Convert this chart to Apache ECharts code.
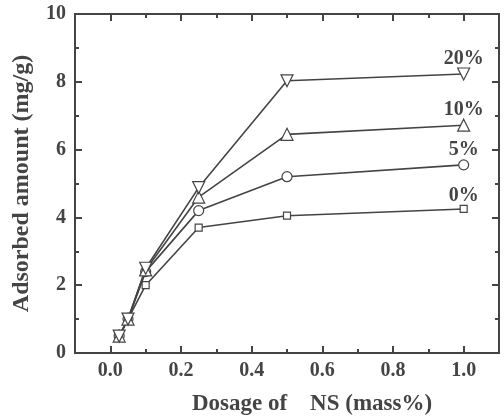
<!DOCTYPE html>
<html>
<head>
<meta charset="utf-8">
<script src="https://cdn.jsdelivr.net/npm/echarts@6/dist/echarts.min.js"></script>
<style>
  html, body { margin: 0; padding: 0; background: #fff; }
  #chart { width: 504px; height: 417px; }
</style>
</head>
<body>
<div id="chart"></div>
<script>
// dosage of NS (mass%)
var dosage = [0.025, 0.05, 0.1, 0.25, 0.5, 1.0]
var seriesNames = ['0%', '5%', '10%', '20%']
var vals0 = [0.5, 1.0, 2.0, 3.7, 4.05, 4.25]
var vals5 = [0.5, 1.0, 2.4, 4.2, 5.2, 5.55]
var vals10 = [0.5, 1.0, 2.45, 4.6, 6.45, 6.72]
var vals20 = [0.5, 1.0, 2.5, 4.88, 8.03, 8.23]
var xMajor = [0, 0.2, 0.4, 0.6, 0.8, 1.0]
var xMinor = [0.1, 0.3, 0.5, 0.7, 0.9]

var ink = '#444'
var font = 'Liberation Serif'

function pairs(ys) {
  var out = []
  for (var i = 0; i < dosage.length; i++) {
    var item = { value: [dosage[i], ys[i]] }
    if (i == dosage.length - 1) {
      item.label = { show: true }
    }
    out.push(item)
  }
  return out
}

function mkSeries(name, ys, symbol, size, rotate) {
  return {
    name: name,
    type: 'line',
    data: pairs(ys),
    symbol: symbol,
    symbolSize: size,
    symbolRotate: rotate || 0,
    showAllSymbol: true,
    lineStyle: { color: ink, width: 1.6 },
    itemStyle: { color: '#fff', borderColor: ink, borderWidth: 1.2 },
    label: {
      show: false,
      position: 'top',
      distance: -1,
      formatter: name,
      fontFamily: font,
      fontWeight: 'bold',
      fontSize: 20,
      color: ink
    },
    emphasis: { disabled: true },
    z: 3
  }
}

function xAx(pos, showLabel, ticks, len) {
  return {
    type: 'value',
    position: pos,
    min: -0.1,
    max: 1.1,
    axisLine: { show: true, onZero: false, lineStyle: { color: ink, width: 2 } },
    axisTick: { show: true, inside: true, length: len, customValues: ticks, lineStyle: { color: ink, width: 2 } },
    axisLabel: {
      show: showLabel,
      customValues: xMajor,
      margin: 8,
      formatter: function (v) { return v.toFixed(1) },
      fontFamily: font, fontWeight: 'bold', fontSize: 20, color: ink
    },
    splitLine: { show: false }
  }
}

function yAx(pos, showLabel) {
  return {
    type: 'value',
    position: pos,
    min: 0, max: 10, interval: 2,
    axisLine: { show: true, onZero: false, lineStyle: { color: ink, width: 2 } },
    axisTick: { show: true, inside: true, length: 7, lineStyle: { color: ink, width: 2 } },
    minorTick: { show: true, splitNumber: 2, length: 4, lineStyle: { color: ink, width: 2 } },
    axisLabel: { show: showLabel, margin: 9, fontFamily: font, fontWeight: 'bold', fontSize: 20, color: ink },
    splitLine: { show: false },
    minorSplitLine: { show: false }
  }
}

var myChart = echarts.init(document.getElementById('chart'))
var option = {
  animation: false,
  grid: { left: 75, right: 5, top: 14, bottom: 64, containLabel: false, outerBoundsMode: 'none' },
  xAxis: [
    Object.assign(xAx('bottom', true, xMajor, 7), {
      name: 'Dosage of    NS (mass%)',
      nameLocation: 'middle',
      nameGap: 40,
      nameTextStyle: { fontFamily: font, fontWeight: 'bold', fontSize: 23, color: ink, padding: [0, 0, 0, 50] }
    }),
    xAx('bottom', false, xMinor, 4),
    xAx('top', false, xMajor, 7),
    xAx('top', false, xMinor, 4)
  ],
  yAxis: [
    Object.assign(yAx('left', true), {
      name: 'Adsorbed amount (mg/g)',
      nameLocation: 'middle',
      nameGap: 41,
      nameTextStyle: { fontFamily: font, fontWeight: 'bold', fontSize: 24, color: ink }
    }),
    yAx('right', false)
  ],
  series: [
    mkSeries('0%', vals0, 'rect', 7),
    mkSeries('5%', vals5, 'circle', 10),
    mkSeries('10%', vals10, 'triangle', 12),
    mkSeries('20%', vals20, 'triangle', 12, 180)
  ]
}
myChart.setOption(option)
</script>
</body>
</html>
